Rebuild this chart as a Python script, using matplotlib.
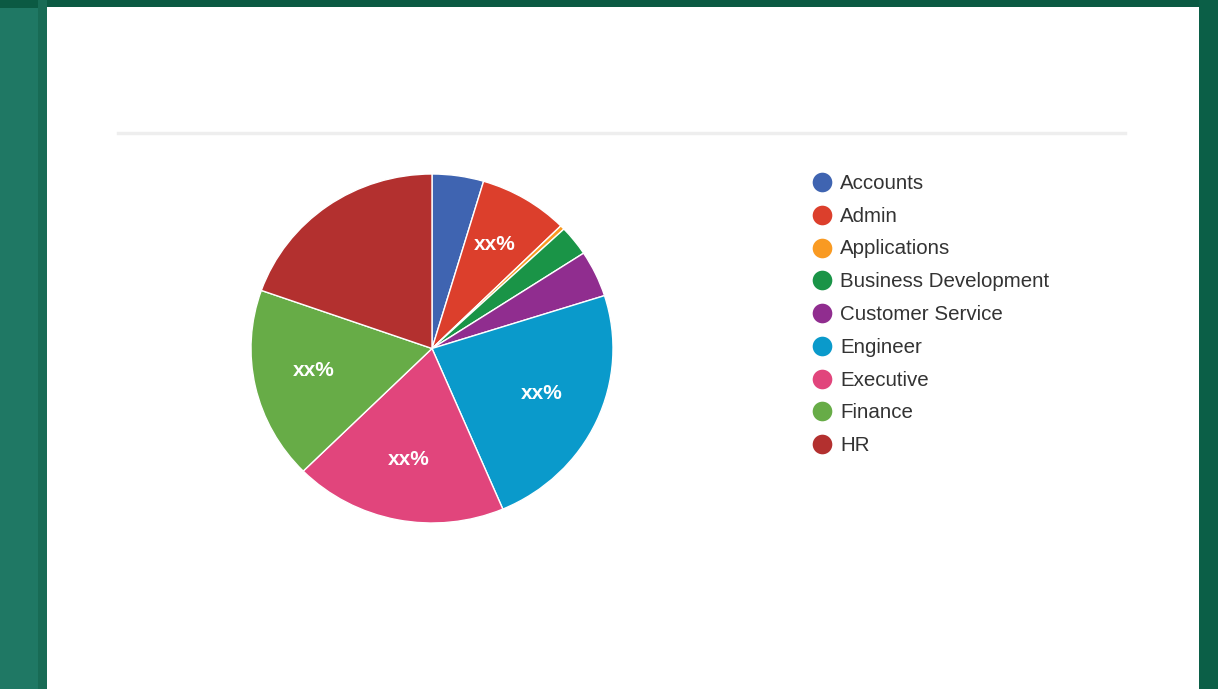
import matplotlib
matplotlib.use('Agg')
import matplotlib.pyplot as plt
from matplotlib.patches import Rectangle
from matplotlib.lines import Line2D

plt.rcParams['font.family'] = ['Liberation Sans', 'DejaVu Sans']

# data
departments = ['Accounts', 'Admin', 'Applications', 'Business Development',
               'Customer Service', 'Engineer', 'Executive', 'Finance', 'HR']
shares = [4.6, 8.0, 0.4, 2.8, 4.3, 23.5, 19.0, 17.8, 19.6]
slice_labels = ['', 'xx%', '', '', '', 'xx%', 'xx%', 'xx%', '']
colors = ['#3f64b1', '#dc3f2c', '#f99a22', '#1a9447', '#902d8f',
          '#0a9acb', '#e1457c', '#67ac47', '#b3302f']

W, H = 1218, 689
fig = plt.figure(figsize=(W / 100, H / 100), dpi=100)
fig.patch.set_facecolor('#1f7864')


def px_rect(x0, y0, x1, y1, **kw):
    # pixel box, y measured from the top
    fig.patches.append(Rectangle((x0 / W, 1 - y1 / H), (x1 - x0) / W, (y1 - y0) / H,
                                 transform=fig.transFigure, figure=fig,
                                 zorder=-5, **kw))


# green backdrop and white card
px_rect(0, 0, W, 8, color='#0b5a43', lw=0)
px_rect(1199, 0, W, H, color='#0b5f47', lw=0)
px_rect(38, 0, 47, H, color='#186b55', lw=0)
px_rect(47, 7, 1199, H, color='white', lw=0)
fig.add_artist(Line2D([118 / W, 1125 / W], [1 - 133 / H] * 2,
                      color='#eeeeee', lw=2.5, transform=fig.transFigure,
                      zorder=-4))

# pie
ax = fig.add_axes([251 / W, 1 - 523 / H, 362 / W, 349 / H])
wedges, texts = ax.pie(shares, colors=colors, startangle=90, counterclock=False,
                       labels=slice_labels, labeldistance=0.67,
                       wedgeprops=dict(edgecolor='white', linewidth=1),
                       textprops=dict(color='white', fontsize=15, fontweight='bold'))
for t in texts:
    t.set_ha('center')
    t.set_va('center')
    x, y = t.get_position()
    t.set_position((x, y + 0.02))
ax.set_aspect('auto')
ax.set_xlim(-1, 1)
ax.set_ylim(-1, 1)
ax.axis('off')

# legend
lax = fig.add_axes([0, 0, 1, 1])
lax.set_xlim(0, W)
lax.set_ylim(H, 0)
lax.axis('off')
row_gap = 32.75
for i, (name, c) in enumerate(zip(departments, colors)):
    y = 182 + i * row_gap
    lax.scatter([822], [y], s=200, color=c, lw=0)
    lax.text(840, y + 7, name, fontsize=14.8, color='#333333',
             va='baseline', ha='left')

fig.savefig('out.png', dpi=100, facecolor=fig.get_facecolor())
